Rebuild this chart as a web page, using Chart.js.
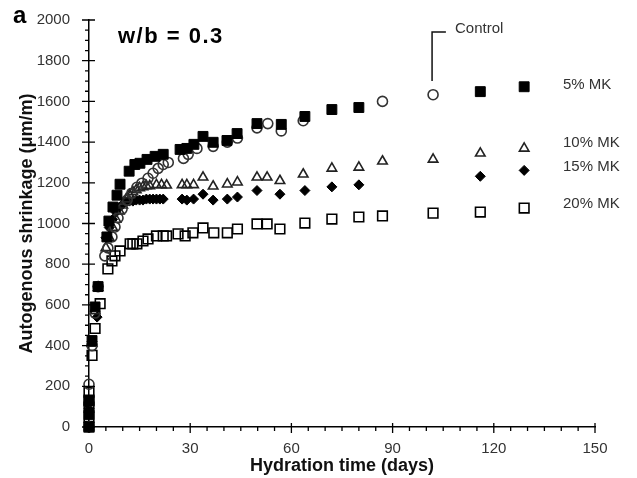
<!DOCTYPE html>
<html>
<head>
<meta charset="utf-8">
<script src="https://cdn.jsdelivr.net/npm/chart.js@4/dist/chart.umd.min.js"></script>
<style>
  html, body { margin: 0; padding: 0; background: #fff; }
  #wrap { width: 637px; height: 478px; }
</style>
</head>
<body>
<div id="wrap"><canvas id="shrinkage"></canvas></div>
<script>
// hydration time (days) and autogenous shrinkage (um/m)
const controlDays = [0, 0, 0.9, 1.8, 2.7, 4.7, 5.6, 6.8, 7.7, 8.6, 9.8, 11.3, 12.7, 14.2, 15.7, 17.5, 19, 20.5, 22, 23.5, 28, 29.4, 32, 36.8, 41, 44, 49.8, 53, 57, 63.5, 87, 102];
const controlVals = [0, 210, 400, 560, 690, 841, 880, 934, 983, 1027, 1071, 1115, 1149, 1178, 1198, 1222, 1247, 1271, 1290, 1300, 1320, 1340, 1369, 1379, 1400, 1420, 1470, 1491, 1455, 1505, 1600, 1633];

const mk5Days = [0, 0, 0, 0.9, 1.8, 2.7, 5.3, 5.9, 7.1, 8.3, 9.2, 11.9, 13.6, 15.1, 17.2, 19.6, 22, 27, 29, 31.1, 33.8, 36.8, 40.9, 43.9, 49.8, 57, 64, 72, 80, 116, 129];
const mk5Vals = [0, 60, 130, 425, 590, 690, 934, 1012, 1081, 1139, 1193, 1257, 1290, 1296, 1315, 1330, 1340, 1364, 1369, 1389, 1428, 1399, 1408, 1442, 1491, 1487, 1526, 1560, 1570, 1648, 1672];

const mk10Days = [0, 0, 0.9, 1.8, 2.7, 5, 6, 7, 8, 9, 10, 11, 12, 13, 14, 15, 16, 17, 18, 20, 21.5, 23, 27.6, 29, 31, 33.8, 36.8, 41, 44, 49.8, 52.8, 56.6, 63.5, 72, 80, 87, 102, 116, 129];
const mk10Vals = [0, 120, 410, 570, 685, 880, 930, 980, 1020, 1060, 1090, 1120, 1140, 1155, 1165, 1175, 1180, 1185, 1185, 1190, 1190, 1188, 1190, 1190, 1190, 1227, 1183, 1193, 1203, 1227, 1227, 1210, 1242, 1271, 1276, 1306, 1315, 1345, 1369];

const mk15Days = [0, 0, 0.9, 2.4, 2.7, 5, 6, 7, 8, 9, 10, 11, 12, 13, 14, 15, 16, 17, 18, 19, 20, 21, 22, 27.6, 29, 31, 33.8, 36.8, 41, 44, 49.8, 56.6, 64, 72, 80, 116, 129];
const mk15Vals = [0, 90, 420, 540, 690, 930, 980, 1020, 1055, 1080, 1095, 1105, 1110, 1110, 1115, 1115, 1115, 1120, 1120, 1120, 1120, 1120, 1120, 1120, 1115, 1120, 1144, 1115, 1120, 1130, 1162, 1144, 1162, 1180, 1190, 1232, 1261];

const mk20Days = [0, 0, 0, 0, 0, 0.9, 1.8, 3.3, 5.6, 6.8, 7.7, 9.2, 12.2, 13, 14.2, 16, 17.5, 20, 22, 23, 26.4, 28.5, 30.8, 33.8, 37, 41, 44, 49.8, 52.8, 56.6, 64, 72, 80, 87, 102, 116, 129];
const mk20Vals = [0, 49, 98, 132, 171, 352, 484, 606, 777, 816, 841, 865, 900, 900, 900, 914, 924, 939, 939, 939, 949, 939, 954, 978, 954, 954, 973, 998, 998, 973, 1002, 1022, 1032, 1037, 1051, 1056, 1076];

const xTicks = [0, 30, 60, 90, 120, 150];
const yTicks = [0, 200, 400, 600, 800, 1000, 1200, 1400, 1600, 1800, 2000];

function pts(days, vals) {
  return days.map((d, i) => ({ x: d, y: vals[i] }));
}

// minor + major tick marks, crossing the axis like the original
const tickMarks = {
  id: 'tickMarks',
  afterDraw(chart) {
    const { ctx, scales: { x, y } } = chart;
    ctx.save();
    ctx.strokeStyle = '#000';
    ctx.lineWidth = 1.3;
    ctx.beginPath();
    for (let d = 0; d <= 150; d += 5) {
      const px = x.getPixelForValue(d);
      const major = d % 30 === 0;
      ctx.moveTo(px, x.top - (major ? 4 : 0));
      ctx.lineTo(px, x.top + (major ? 6 : 4));
    }
    for (let v = 0; v <= 2000; v += 50) {
      const py = y.getPixelForValue(v);
      const major = v % 200 === 0;
      ctx.moveTo(y.right - (major ? 7 : 4), py);
      ctx.lineTo(y.right + (major ? 6 : 0), py);
    }
    ctx.stroke();
    ctx.restore();
  }
};

// panel letter, w/b note and series labels
const notes = {
  id: 'notes',
  afterDraw(chart) {
    const { ctx, scales: { x, y } } = chart;
    ctx.save();
    ctx.fillStyle = '#000';
    ctx.textBaseline = 'middle';
    ctx.textAlign = 'left';
    ctx.font = 'bold 24px "Liberation Sans", Arial, sans-serif';
    ctx.fillText('a', 13, 16);
    ctx.font = 'bold 22px "Liberation Sans", Arial, sans-serif';
    ctx.letterSpacing = '1.5px';
    ctx.fillText('w/b = 0.3', 118, 37);
    ctx.letterSpacing = '0px';

    ctx.fillStyle = '#333';
    ctx.font = '15px "Liberation Sans", Arial, sans-serif';
    const lx = x.getPixelForValue(140.5);
    ctx.fillText('5% MK', lx, y.getPixelForValue(1682));
    ctx.fillText('10% MK', lx, y.getPixelForValue(1394));
    ctx.fillText('15% MK', lx, y.getPixelForValue(1276));
    ctx.fillText('20% MK', lx, y.getPixelForValue(1095));
    ctx.fillText('Control', x.getPixelForValue(108.5), y.getPixelForValue(1958));

    ctx.strokeStyle = '#111';
    ctx.lineWidth = 1.5;
    ctx.beginPath();
    ctx.moveTo(x.getPixelForValue(101.7), y.getPixelForValue(1700));
    ctx.lineTo(x.getPixelForValue(101.7), y.getPixelForValue(1941));
    ctx.lineTo(x.getPixelForValue(105.8), y.getPixelForValue(1941));
    ctx.stroke();
    ctx.restore();
  }
};

const tickFont = { family: '"Liberation Sans", Arial, sans-serif', size: 15 };
const titleFont = { family: '"Liberation Sans", Arial, sans-serif', size: 18, weight: 'bold' };

new Chart(document.getElementById('shrinkage'), {
  type: 'scatter',
  data: {
    datasets: [
      {
        label: '5% MK',
        data: pts(mk5Days, mk5Vals),
        pointStyle: 'rect',
        pointRadius: 7,
        backgroundColor: '#000',
        borderColor: '#000',
        borderWidth: 1,
        clip: false
      },
      {
        label: 'Control',
        data: pts(controlDays, controlVals),
        pointStyle: 'circle',
        pointRadius: 5,
        backgroundColor: 'rgba(255,255,255,0)',
        borderColor: '#333',
        borderWidth: 1.6,
        clip: false
      },
      {
        label: '10% MK',
        data: pts(mk10Days, mk10Vals),
        pointStyle: 'triangle',
        pointRadius: 5.5,
        backgroundColor: 'rgba(255,255,255,0)',
        borderColor: '#222',
        borderWidth: 1.6,
        clip: false
      },
      {
        label: '15% MK',
        data: pts(mk15Days, mk15Vals),
        pointStyle: 'rectRot',
        pointRadius: 5,
        backgroundColor: '#000',
        borderColor: '#000',
        borderWidth: 1,
        clip: false
      },
      {
        label: '20% MK',
        data: pts(mk20Days, mk20Vals),
        pointStyle: 'rect',
        pointRadius: 6.8,
        backgroundColor: 'rgba(255,255,255,0)',
        borderColor: '#000',
        borderWidth: 1.6,
        clip: false
      }
    ]
  },
  options: {
    responsive: true,
    maintainAspectRatio: false,
    animation: false,
    layout: { padding: { left: 0, right: 42, top: 18, bottom: 0 } },
    plugins: {
      legend: { display: false },
      tooltip: { enabled: false }
    },
    scales: {
      x: {
        type: 'linear',
        min: 0,
        max: 150,
        afterBuildTicks: (s) => { s.ticks = xTicks.map(v => ({ value: v })); },
        afterFit: (s) => { s.height = 51; },
        grid: { display: false },
        border: { display: true, color: '#000', width: 1.5 },
        ticks: { color: '#333', font: tickFont, padding: 5, maxRotation: 0, callback: (v) => String(v) },
        title: {
          display: true,
          text: 'Hydration time (days)',
          color: '#111',
          font: titleFont,
          padding: { top: 0, bottom: 1 }
        }
      },
      y: {
        type: 'linear',
        min: 0,
        max: 2000,
        afterBuildTicks: (s) => { s.ticks = yTicks.map(v => ({ value: v })); },
        afterFit: (s) => { s.width = 89; },
        grid: { display: false },
        border: { display: true, color: '#000', width: 1.5 },
        ticks: { color: '#333', font: tickFont, padding: 11, callback: (v) => String(v) },
        title: {
          display: true,
          text: 'Autogenous shrinkage (μm/m)',
          color: '#111',
          font: titleFont,
          padding: { top: 16, bottom: 0 }
        }
      }
    }
  },
  plugins: [tickMarks, notes]
});
</script>
</body>
</html>
